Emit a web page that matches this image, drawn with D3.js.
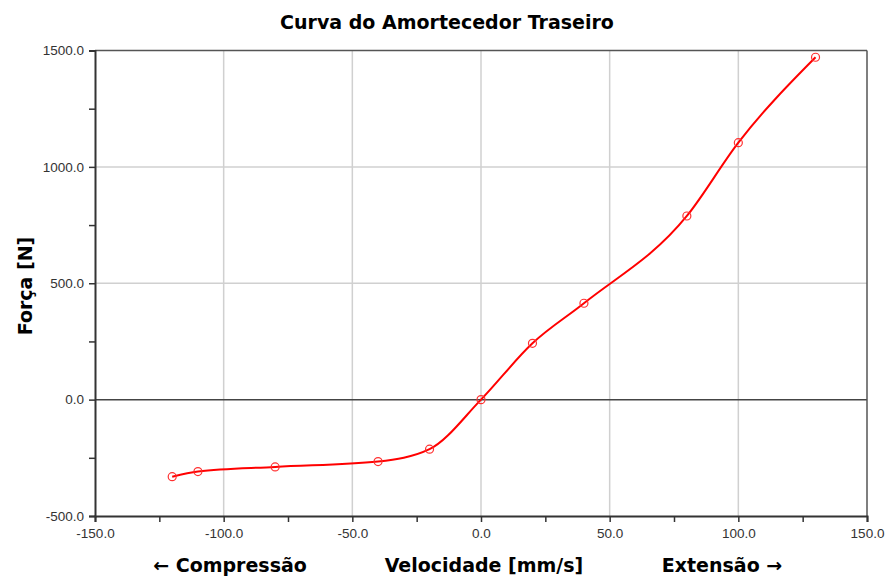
<!DOCTYPE html>
<html>
<head>
<meta charset="utf-8">
<style>
body { margin: 0; background: #fff; }
svg { display: block; }
.tick text { font-family: "Liberation Sans", Arial, sans-serif; font-size: 13.5px; fill: #333; }
.grid line { stroke: #d0d0d0; stroke-width: 1.5px; }
.lbl { font-family: "DejaVu Sans", Verdana, sans-serif; font-weight: bold; fill: #000; }
</style>
</head>
<body>
<svg width="888" height="581"></svg>
<script src="https://cdn.jsdelivr.net/npm/d3@7"></script>
<script>
var velocidade = [-120, -110, -80, -40, -20, 0, 20, 40, 80, 100, 130];
var forca = [-331, -309, -289, -266, -213, 0, 242, 414, 789, 1104, 1471];
var xTicks = [-150, -100, -50, 0, 50, 100, 150];
var yTicks = [-500, 0, 500, 1000, 1500];

var svg = d3.select("svg"),
    pLeft = 95, pRight = 867, pTop = 50.5, pBottom = 516;

var x = d3.scaleLinear().domain([-150, 150]).range([pLeft, pRight]);
var y = d3.scaleLinear().domain([-500, 1500]).range([pBottom, pTop]);

var data = velocidade.map(function(v, i) { return {v: v, f: forca[i]}; });

// grid
var grid = svg.append("g").attr("class", "grid");
grid.selectAll("line.v").data(xTicks.slice(1, -1)).enter().append("line")
    .attr("class", "v")
    .attr("x1", function(d) { return x(d); }).attr("x2", function(d) { return x(d); })
    .attr("y1", pTop).attr("y2", pBottom);
grid.selectAll("line.h").data(yTicks.slice(2, -1)).enter().append("line")
    .attr("class", "h")
    .attr("x1", pLeft).attr("x2", pRight)
    .attr("y1", function(d) { return y(d); }).attr("y2", function(d) { return y(d); });

// zero line and frame
svg.append("line").attr("x1", pLeft).attr("x2", pRight).attr("y1", y(0)).attr("y2", y(0))
    .attr("stroke", "#444").attr("stroke-width", 1.5);
svg.append("line").attr("x1", pLeft).attr("x2", pRight).attr("y1", pTop).attr("y2", pTop)
    .attr("stroke", "#555").attr("stroke-width", 1.5);
svg.append("line").attr("x1", pRight).attr("x2", pRight).attr("y1", pTop).attr("y2", pBottom)
    .attr("stroke", "#555").attr("stroke-width", 1.5);

// axes
var xAxis = svg.append("g").attr("transform", "translate(0," + pBottom + ")")
    .call(d3.axisBottom(x).tickValues(d3.range(-150, 151, 25)).tickSize(6).tickPadding(6)
      .tickFormat(function(d) { return d % 50 === 0 ? d.toFixed(1) : ""; }));
var yAxis = svg.append("g").attr("transform", "translate(" + pLeft + ",0)")
    .call(d3.axisLeft(y).tickValues(d3.range(-500, 1501, 250)).tickSize(6).tickPadding(5)
      .tickFormat(function(d) { return d % 500 === 0 ? d.toFixed(1) : ""; }));
[xAxis, yAxis].forEach(function(a) {
  a.select(".domain").attr("stroke", "#333").attr("stroke-width", 2);
  a.selectAll(".tick line").attr("stroke", "#333").attr("stroke-width", 1.5);
});

// curve
var line = d3.line()
    .x(function(d) { return x(d.v); })
    .y(function(d) { return y(d.f); })
    .curve(d3.curveMonotoneX);

svg.append("path").datum(data)
    .attr("fill", "none").attr("stroke", "#ff0000").attr("stroke-width", 2)
    .attr("d", line);

svg.append("g").selectAll("circle").data(data).enter().append("circle")
    .attr("cx", function(d) { return x(d.v); })
    .attr("cy", function(d) { return y(d.f); })
    .attr("r", 4)
    .attr("fill", "none").attr("stroke", "#ff3030").attr("stroke-width", 1.2);

// labels
svg.append("text").attr("class", "lbl").attr("x", 447).attr("y", 29)
    .attr("text-anchor", "middle").style("font-size", "19px")
    .text("Curva do Amortecedor Traseiro");
svg.append("text").attr("class", "lbl")
    .attr("transform", "translate(32,286) rotate(-90)")
    .attr("text-anchor", "middle").style("font-size", "19px")
    .text("Força [N]");
svg.append("text").attr("class", "lbl").attr("x", 230).attr("y", 572)
    .attr("text-anchor", "middle").style("font-size", "19px").text("← Compressão");
svg.append("text").attr("class", "lbl").attr("x", 484).attr("y", 572)
    .attr("text-anchor", "middle").style("font-size", "19px").text("Velocidade [mm/s]");
svg.append("text").attr("class", "lbl").attr("x", 722).attr("y", 572)
    .attr("text-anchor", "middle").style("font-size", "19px").text("Extensão →");
</script>
</body>
</html>
